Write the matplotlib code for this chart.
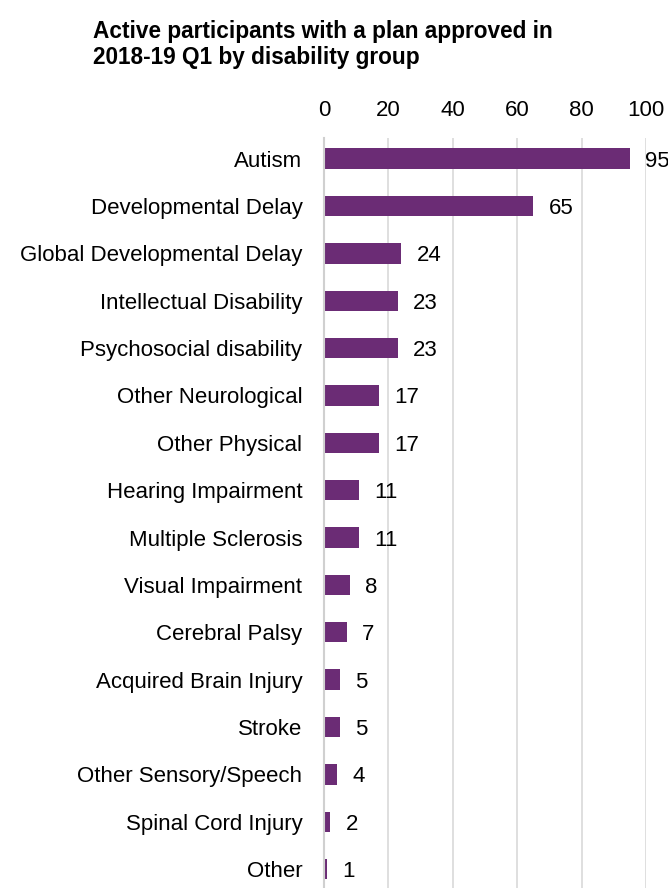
import matplotlib.pyplot as plt

# Active participants by disability group (2018-19 Q1)
groups = ['Autism', 'Developmental Delay', 'Global Developmental Delay',
          'Intellectual Disability', 'Psychosocial disability', 'Other Neurological',
          'Other Physical', 'Hearing Impairment', 'Multiple Sclerosis',
          'Visual Impairment', 'Cerebral Palsy', 'Acquired Brain Injury',
          'Stroke', 'Other Sensory/Speech', 'Spinal Cord Injury', 'Other']
counts = [95, 65, 24, 23, 23, 17, 17, 11, 11, 8, 7, 5, 5, 4, 2, 1]
xticks = [0, 20, 40, 60, 80, 100]

plt.rcParams['font.family'] = ['Liberation Sans', 'DejaVu Sans']

fig = plt.figure(figsize=(6.68, 8.88), dpi=100)
ax = fig.add_axes([0.485, 0.0, 0.482, 0.845])

pos = list(range(len(groups)))
ax.barh(pos, counts, height=0.43, color='#6b2c75')

for p, v in zip(pos, counts):
    ax.annotate(str(v), (v, p), xytext=(11, 0), textcoords='offset points',
                va='center_baseline', ha='left', fontsize=16, annotation_clip=False)

ax.set_xlim(0, 100)
ax.set_ylim(15.4, -0.444)
ax.set_xticks(xticks)
ax.set_yticks(pos)
ax.set_yticklabels(groups)
ax.xaxis.tick_top()
ax.tick_params(axis='x', length=0, labelsize=16, pad=12)
ax.tick_params(axis='y', length=0, labelsize=16, pad=15.5)
ax.grid(axis='x', color='#d9d9d9', linewidth=1.2)
ax.set_axisbelow(True)
for s in ['top', 'right', 'bottom']:
    ax.spines[s].set_visible(False)
ax.spines['left'].set_color('#d0d0d0')
ax.spines['left'].set_linewidth(1.5)
ax.spines['left'].set_zorder(3)

fig.text(0.139, 0.978, 'Active participants with a plan approved in\n2018-19 Q1 by disability group',
         fontsize=16.3, fontweight='bold', va='top', ha='left', linespacing=1.2)

plt.savefig('out.png', dpi=100)
